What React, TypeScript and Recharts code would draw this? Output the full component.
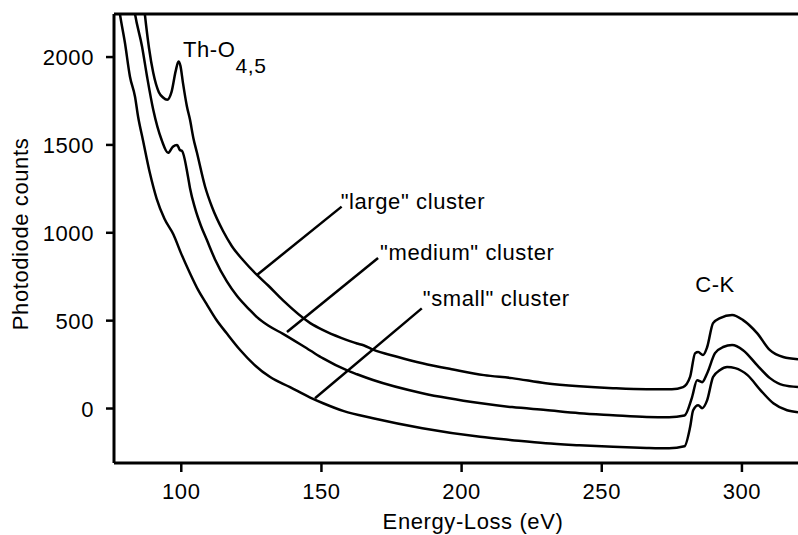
import React from 'react';
import { LineChart, Line, XAxis, YAxis, ReferenceLine, ReferenceDot } from 'recharts';

const FONT = '"Liberation Sans", Arial, Helvetica, sans-serif';
const FS = 22;
const LS = 0.6;

const xTicks = [100, 150, 200, 250, 300];
const yTicks = [0, 500, 1000, 1500, 2000];

const largeCluster: [number, number][] = [
  [86.3, 2350], [87, 2245], [88.5, 2050], [90, 1910], [92, 1800], [93.5, 1770], [95, 1757],
  [96.5, 1800], [98, 1920], [99, 1975], [99.7, 1950], [100.6, 1853], [102, 1720], [103.1, 1644],
  [104.3, 1540], [105.6, 1455], [108.5, 1262], [111, 1145], [114.9, 1010], [118, 925], [122, 845],
  [127, 760], [131, 700], [136.3, 615], [146, 486], [150.6, 446], [157, 402], [162.7, 370],
  [165, 360], [168.4, 335], [177, 295], [186, 258], [197, 222], [208, 190], [218, 173], [230, 144],
  [242, 127], [254, 116], [266, 110], [275, 110], [279, 122], [281.5, 180], [283.3, 315],
  [284.4, 321], [286.1, 304], [287.6, 350], [289.7, 486], [292.2, 514], [296.5, 532], [300.4, 503],
  [305.4, 429], [310, 332], [314.7, 293], [320, 281],
];

const mediumCluster: [number, number][] = [
  [82.5, 2350], [83.5, 2245], [86, 2060], [87.8, 1888], [90, 1700], [93, 1528], [95.3, 1455],
  [97, 1490], [98.5, 1500], [99.5, 1471], [100.3, 1465], [102.4, 1319], [103.1, 1255],
  [104.9, 1140], [107, 1040], [109.1, 960], [112, 850], [116.2, 725], [119.9, 640], [124.5, 560],
  [127, 520], [131, 472], [136.3, 425], [146, 330], [150.6, 285], [159, 218], [162.7, 195],
  [168.4, 162], [186, 87], [207, 30], [218, 8], [230, -9], [242, -27], [254, -38], [266, -48],
  [274, -50], [279.5, -40], [282.2, 64], [284, 161], [285.8, 150], [287.6, 201], [290.4, 315],
  [293.3, 350], [296.5, 361], [300.4, 332], [305.4, 247], [310, 173], [314.7, 133], [320, 122],
];

const smallCluster: [number, number][] = [
  [77.2, 2350], [78.1, 2247], [79.9, 2081], [81.7, 1888], [83.5, 1774], [84.6, 1660], [86.3, 1530],
  [88.8, 1340], [91.2, 1195], [94, 1080], [97.2, 990], [100, 880], [103.1, 770], [106, 675],
  [109, 595], [112.5, 505], [116.2, 428], [121, 333], [126, 250], [131.7, 179],
  [138.8, 122], [146, 62], [150.6, 30], [158, -15], [168.4, -55], [186, -112], [206.6, -161],
  [218, -180], [230, -198], [242, -209], [254, -218], [266, -224], [274, -226], [279.5, -215],
  [281.5, -107], [282.6, -10], [284.4, 19], [285.8, 2], [287.6, 48], [289.7, 179], [292.2, 219],
  [294.7, 236], [297.6, 230], [302, 190], [306.6, 105], [311.2, 30], [316.1, -10], [320, -21],
];

const toData = (arr: [number, number][]) => arr.map(([x, y]) => ({ x, y }));

const XTick = (props: any) => {
  const { x, y, payload } = props;
  return (
    <text x={x} y={y} dy={16} textAnchor="middle" fontSize={FS} fontFamily={FONT} fill="#000" letterSpacing={LS}>
      {payload.value}
    </text>
  );
};

const YTick = (props: any) => {
  const { x, y, payload } = props;
  return (
    <text x={x} y={y} dy={8} textAnchor="end" fontSize={FS} fontFamily={FONT} fill="#000" letterSpacing={LS}>
      {payload.value}
    </text>
  );
};

const makeText = (text: string, dx: number, dy: number, anchor: string = 'start') => (props: any) => (
  <text x={props.cx + dx} y={props.cy + dy} textAnchor={anchor} fontSize={FS} fontFamily={FONT} fill="#000" letterSpacing={LS}>
    {text}
  </text>
);

const ThLabel = (props: any) => (
  <text x={props.cx} y={props.cy} fontSize={FS} fontFamily={FONT} fill="#000" letterSpacing={LS}>
    Th-O
    <tspan dy={16} fontSize={21}>4,5</tspan>
  </text>
);

export default function App() {
  return (
    <div style={{ position: 'absolute', left: 0, top: 0 }}>
      <LineChart width={798} height={535} margin={{ top: 14, right: 0, bottom: 0, left: 0 }}>
        <XAxis
          type="number"
          dataKey="x"
          domain={[76, 320]}
          ticks={xTicks}
          allowDataOverflow
          height={72}
          tickSize={9}
          tickMargin={11}
          axisLine={{ stroke: '#000', strokeWidth: 3 }}
          tickLine={{ stroke: '#000', strokeWidth: 2.5 }}
          tick={<XTick />}
          label={{
            content: () => (
              <text x={473} y={529} textAnchor="middle" fontSize={FS} fontFamily={FONT} fill="#000" letterSpacing={LS}>
                Energy-Loss (eV)
              </text>
            ),
          }}
        />
        <YAxis
          type="number"
          domain={[-310, 2245]}
          ticks={yTicks}
          allowDataOverflow
          width={114}
          tickSize={8}
          tickMargin={12}
          axisLine={{ stroke: '#000', strokeWidth: 3 }}
          tickLine={{ stroke: '#000', strokeWidth: 2.5 }}
          tick={<YTick />}
          label={{
            content: () => (
              <text
                x={28}
                y={234}
                transform="rotate(-90, 28, 234)"
                textAnchor="middle"
                fontSize={FS}
                fontFamily={FONT}
                fill="#000"
                letterSpacing={LS}
              >
                Photodiode counts
              </text>
            ),
          }}
        />
        <ReferenceLine y={2245} stroke="#000" strokeWidth={3} />
        <ReferenceLine segment={[{ x: 127, y: 760 }, { x: 157.2, y: 1149 }]} stroke="#000" strokeWidth={2.5} />
        <ReferenceLine segment={[{ x: 137.7, y: 435 }, { x: 170.2, y: 856 }]} stroke="#000" strokeWidth={2.5} />
        <ReferenceLine segment={[{ x: 147.7, y: 58.7 }, { x: 185.8, y: 570 }]} stroke="#000" strokeWidth={2.5} />
        <Line data={toData(largeCluster)} dataKey="y" type="monotone" stroke="#000" strokeWidth={2.5} dot={false} isAnimationActive={false} />
        <Line data={toData(mediumCluster)} dataKey="y" type="monotone" stroke="#000" strokeWidth={2.5} dot={false} isAnimationActive={false} />
        <Line data={toData(smallCluster)} dataKey="y" type="monotone" stroke="#000" strokeWidth={2.5} dot={false} isAnimationActive={false} />
        <ReferenceDot x={157.2} y={1149} r={0} shape={makeText('"large" cluster', -1, 2)} />
        <ReferenceDot x={170.2} y={856} r={0} shape={makeText('"medium" cluster', 2, 2)} />
        <ReferenceDot x={185.8} y={570} r={0} shape={makeText('"small" cluster', 1, -2)} />
        <ReferenceDot x={100.6} y={2001} r={0} shape={ThLabel} />
        <ReferenceDot x={290.4} y={663} r={0} shape={makeText('C-K', 0, 0, 'middle')} />
      </LineChart>
    </div>
  );
}
